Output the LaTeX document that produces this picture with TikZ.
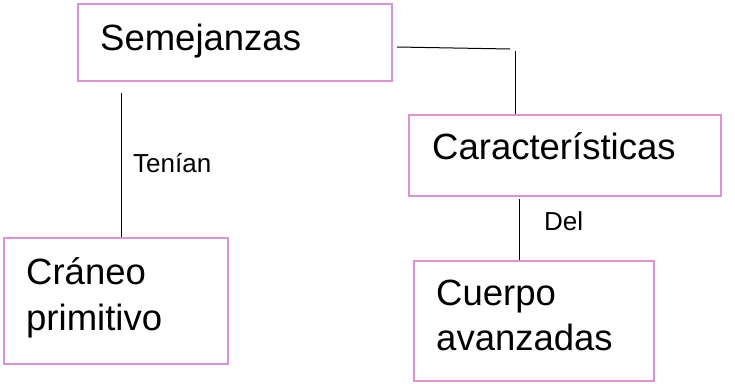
\documentclass[tikz,border=0pt]{standalone}
\usepackage{fontspec}
\setmainfont{Liberation Sans}
\definecolor{boxpink}{RGB}{222,145,212}
\begin{document}
\begin{tikzpicture}[x=1pt,y=-1pt,
  box/.style={draw=boxpink,line width=1.6pt,inner sep=0pt},
  big/.style={inner sep=0pt,anchor=base west,font=\fontsize{36.5}{40}\selectfont},
  small/.style={inner sep=0pt,anchor=base west,font=\fontsize{26}{30}\selectfont},
  conn/.style={draw=black,line width=1pt}]
\useasboundingbox (0,0) rectangle (735,383);
\fill[white] (0,0) rectangle (735,383);
% boxes
\node[box,minimum width=314pt,minimum height=77pt] (sem) at (235,42.5) {};
\node[box,minimum width=312pt,minimum height=81pt] (car) at (565,155.5) {};
\node[box,minimum width=224pt,minimum height=126pt] (cra) at (116,301) {};
\node[box,minimum width=240pt,minimum height=120pt] (cue) at (534,321) {};
% texts
\node[big] (tsem) at (100,50) {Semejanzas};
\node[big] (tcar) at (432,159) {Características};
\node[big] (tcra1) at (26,284) {Cráneo};
\node[big] (tcra2) at (26,330) {primitivo};
\node[big] (tcue1) at (436,305) {Cuerpo};
\node[big] (tcue2) at (436,350) {avanzadas};
\node[small] (lten) at (133,172) {Tenían};
\node[small] (ldel) at (544,230) {Del};
% connectors
\coordinate (s1) at (397,47);
\coordinate (s2) at (510,49);
\coordinate (s3) at (515,51);
\draw[conn] (s1) -- (s2);
\draw[conn] (s3) -- (s3 |- car.north);
\coordinate (t1) at (121,93);
\draw[conn] (t1) -- (t1 |- cra.north);
\coordinate (d1) at (519,199);
\draw[conn] (d1) -- (d1 |- cue.north);
\end{tikzpicture}
\end{document}
